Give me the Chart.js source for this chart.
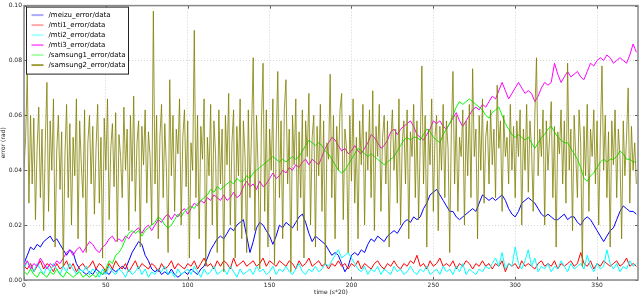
<!DOCTYPE html>
<html><head><meta charset="utf-8">
<script src="https://cdn.jsdelivr.net/npm/chart.js@4/dist/chart.umd.min.js"></script>
<style>html,body{margin:0;padding:0;background:#fff;overflow:hidden}canvas{display:block}</style>
</head><body>
<canvas id="c" width="640" height="296"></canvas>
<script>
const time = [
0,2,4,6,8,10,12,14,16,18,
20,22,24,26,28,30,32,34,36,38,
40,42,44,46,48,50,52,54,56,58,
60,62,64,66,68,70,72,74,76,78,
80,82,84,86,88,90,92,94,96,98,
100,102,104,106,108,110,112,114,116,118,
120,122,124,126,128,130,132,134,136,138,
140,142,144,146,148,150,152,154,156,158,
160,162,164,166,168,170,172,174,176,178,
180,182,184,186,188,190,192,194,196,198,
200,202,204,206,208,210,212,214,216,218,
220,222,224,226,228,230,232,234,236,238,
240,242,244,246,248,250,252,254,256,258,
260,262,264,266,268,270,272,274,276,278,
280,282,284,286,288,290,292,294,296,298,
300,302,304,306,308,310,312,314,316,318,
320,322,324,326,328,330,332,334,336,338,
340,342,344,346,348,350,352,354,356,358,
360,362,364,366,368,370,372,374];

const samsung2Time = [
0,1,2,3,4,5,6,7,8,9,10,11,12,13,14,
15,16,17,18,19,20,21,22,23,24,25,26,27,28,29,
30,31,32,33,34,35,36,37,38,39,40,41,42,43,44,
45,46,47,48,49,50,51,52,53,54,55,56,57,58,59,
60,61,62,63,64,65,66,67,68,69,70,71,72,73,74,
75,76,77,78,79,80,81,82,83,84,85,86,87,88,89,
90,91,92,93,94,95,96,97,98,99,100,101,102,103,104,
105,106,107,108,109,110,111,112,113,114,115,116,117,118,119,
120,121,122,123,124,125,126,127,128,129,130,131,132,133,134,
135,136,137,138,139,140,141,142,143,144,145,146,147,148,149,
150,151,152,153,154,155,156,157,158,159,160,161,162,163,164,
165,166,167,168,169,170,171,172,173,174,175,176,177,178,179,
180,181,182,183,184,185,186,187,188,189,190,191,192,193,194,
195,196,197,198,199,200,201,202,203,204,205,206,207,208,209,
210,211,212,213,214,215,216,217,218,219,220,221,222,223,224,
225,226,227,228,229,230,231,232,233,234,235,236,237,238,239,
240,241,242,243,244,245,246,247,248,249,250,251,252,253,254,
255,256,257,258,259,260,261,262,263,264,265,266,267,268,269,
270,271,272,273,274,275,276,277,278,279,280,281,282,283,284,
285,286,287,288,289,290,291,292,293,294,295,296,297,298,299,
300,301,302,303,304,305,306,307,308,309,310,311,312,313,314,
315,316,317,318,319,320,321,322,323,324,325,326,327,328,329,
330,331,332,333,334,335,336,337,338,339,340,341,342,343,344,
345,346,347,348,349,350,351,352,353,354,355,356,357,358,359,
360,361,362,363,364,365,366,367,368,369,370,371,372,373,374];

const meizu = [
.006,.009,.012,.011,.013,.012,.014,.015,.016,.014,
.015,.013,.011,.009,.011,.010,.006,.004,.003,.002,
.003,.002,.004,.003,.002,.003,.002,.004,.003,.004,
.005,.004,.007,.010,.012,.014,.013,.009,.007,.004,
.003,.004,.002,.003,.002,.004,.002,.001,.002,.003,
.002,.004,.003,.002,.004,.005,.008,.011,.013,.015,
.016,.015,.017,.019,.018,.020,.021,.022,.016,.010,
.014,.019,.021,.020,.018,.016,.013,.016,.020,.019,
.021,.020,.019,.021,.023,.024,.021,.017,.014,.016,
.015,.014,.013,.011,.009,.010,.009,.006,.003,.005,
.009,.010,.009,.011,.010,.013,.015,.014,.016,.015,
.014,.016,.017,.018,.017,.019,.021,.022,.021,.023,
.022,.023,.026,.028,.031,.032,.033,.031,.029,.027,
.025,.025,.023,.022,.023,.024,.025,.026,.025,.028,
.031,.030,.029,.030,.029,.030,.031,.029,.026,.024,
.023,.025,.028,.029,.030,.029,.028,.026,.024,.023,
.024,.023,.022,.022,.023,.024,.022,.023,.023,.021,
.020,.022,.023,.022,.020,.018,.016,.014,.016,.018,
.019,.022,.025,.027,.026,.025,.025,.024];

const mti1 = [
.005,.004,.006,.003,.005,.007,.004,.006,.005,.003,
.006,.004,.005,.007,.004,.006,.003,.005,.006,.004,
.005,.007,.004,.006,.005,.003,.006,.004,.007,.005,
.004,.006,.003,.005,.007,.004,.006,.005,.004,.006,
.005,.003,.006,.004,.005,.007,.004,.006,.005,.004,
.006,.005,.007,.004,.006,.008,.005,.006,.004,.007,
.005,.007,.006,.004,.008,.005,.006,.007,.005,.006,
.007,.005,.006,.008,.005,.007,.006,.005,.007,.006,
.005,.007,.006,.004,.007,.005,.006,.008,.005,.006,
.007,.005,.006,.004,.006,.005,.007,.005,.006,.004,
.006,.005,.007,.004,.006,.005,.004,.006,.007,.005,
.004,.006,.005,.007,.005,.004,.006,.005,.007,.006,
.009,.005,.006,.004,.007,.005,.006,.008,.005,.006,
.005,.007,.004,.006,.005,.007,.006,.004,.006,.005,
.007,.005,.006,.004,.006,.005,.007,.003,.006,.005,
.006,.004,.007,.005,.006,.005,.004,.006,.007,.005,
.006,.005,.007,.004,.006,.005,.006,.007,.005,.006,
.010,.006,.005,.007,.004,.006,.005,.007,.006,.005,
.006,.007,.005,.006,.008,.005,.006,.005];

const mti2 = [
.004,.007,.005,.003,.006,.004,.002,.005,.003,.006,
.004,.002,.005,.003,.006,.004,.002,.004,.003,.005,
.002,.004,.003,.001,.004,.002,.005,.003,.002,.004,
.003,.001,.004,.002,.003,.005,.002,.004,.001,.003,
.002,.004,.003,.005,.002,.003,.001,.004,.002,.003,
.004,.002,.005,.003,.001,.004,.002,.003,.005,.002,
.003,.004,.002,.005,.003,.001,.004,.002,.003,.004,
.002,.005,.003,.004,.002,.003,.005,.002,.004,.003,
.005,.003,.002,.004,.006,.003,.002,.004,.003,.005,
.003,.004,.006,.005,.007,.009,.011,.008,.009,.010,
.008,.006,.004,.003,.005,.002,.004,.003,.005,.002,
.004,.003,.002,.005,.003,.004,.002,.003,.005,.003,
.002,.004,.003,.005,.002,.003,.004,.002,.005,.003,
.004,.002,.005,.003,.006,.002,.004,.003,.002,.004,
.003,.005,.004,.006,.008,.005,.010,.004,.006,.005,
.012,.006,.004,.007,.011,.005,.008,.003,.005,.004,
.006,.003,.005,.004,.007,.005,.003,.006,.004,.005,
.006,.004,.009,.005,.003,.006,.004,.005,.011,.006,
.004,.006,.003,.005,.004,.007,.005,.006];

const mti3 = [
.005,.007,.004,.006,.005,.008,.006,.004,.006,.005,
.007,.006,.008,.010,.011,.009,.011,.012,.010,.012,
.014,.013,.011,.010,.012,.013,.015,.016,.014,.015,
.014,.016,.015,.017,.018,.019,.017,.019,.020,.018,
.020,.022,.021,.023,.024,.022,.024,.023,.025,.026,
.024,.026,.028,.027,.029,.028,.030,.029,.031,.030,
.029,.031,.029,.030,.032,.030,.031,.034,.036,.034,
.035,.033,.036,.034,.035,.037,.039,.037,.038,.040,
.039,.041,.040,.042,.041,.043,.044,.042,.044,.043,
.042,.045,.048,.050,.052,.051,.049,.047,.048,.046,
.047,.049,.047,.046,.048,.050,.053,.052,.050,.048,
.049,.051,.054,.055,.053,.055,.056,.057,.058,.056,
.053,.052,.051,.053,.055,.058,.057,.058,.056,.055,
.057,.059,.061,.058,.056,.058,.060,.062,.063,.062,
.064,.063,.065,.067,.066,.069,.072,.069,.066,.068,
.070,.072,.070,.068,.069,.068,.065,.067,.070,.072,
.071,.072,.079,.075,.072,.074,.076,.074,.075,.076,
.074,.073,.076,.079,.078,.080,.081,.080,.082,.081,
.079,.080,.081,.080,.079,.082,.086,.083];

const samsung1 = [
.003,.002,.004,.002,.001,.003,.002,.001,.003,.002,
.004,.002,.001,.003,.002,.001,.002,.003,.001,.002,
.001,.002,.001,.003,.002,.004,.007,.006,.009,.010,
.012,.015,.017,.018,.017,.018,.016,.018,.019,.020,
.021,.023,.022,.020,.019,.020,.022,.024,.023,.025,
.026,.027,.026,.028,.029,.030,.031,.033,.032,.034,
.033,.034,.035,.036,.035,.037,.036,.036,.038,.037,
.039,.040,.041,.042,.043,.044,.045,.044,.043,.044,
.043,.044,.045,.044,.045,.047,.049,.051,.050,.049,
.050,.049,.047,.046,.044,.042,.040,.039,.040,.042,
.044,.046,.048,.047,.046,.045,.046,.045,.044,.043,
.042,.043,.044,.045,.047,.049,.051,.052,.051,.052,
.052,.051,.053,.055,.054,.052,.051,.050,.053,.055,
.057,.060,.063,.065,.064,.065,.066,.065,.064,.063,
.062,.060,.059,.061,.062,.063,.060,.057,.055,.053,
.052,.053,.052,.051,.052,.050,.048,.050,.052,.053,
.055,.056,.054,.052,.051,.050,.050,.048,.046,.044,
.041,.037,.036,.038,.039,.041,.043,.044,.043,.044,
.044,.045,.047,.046,.044,.044,.043,.043];

const samsung2 = [
.040,.052,.076,.028,.060,.035,.059,.022,.048,.063,.030,.055,.018,.050,.072,
.025,.058,.040,.066,.012,.047,.060,.033,.054,.005,.045,.064,.030,.057,.020,
.052,.038,.066,.015,.058,.042,.030,.062,.010,.050,.060,.035,.056,.024,.048,
.064,.028,.052,.008,.059,.040,.066,.022,.048,.057,.034,.061,.014,.053,.045,
.030,.063,.040,.055,.018,.060,.036,.067,.025,.050,.058,.012,.056,.042,.062,
.028,.054,.045,.020,.098,.035,.060,.015,.052,.064,.030,.057,.040,.010,.073,
.038,.060,.025,.055,.046,.066,.020,.052,.062,.034,.058,.008,.050,.040,.091,
.030,.060,.015,.056,.044,.066,.005,.052,.038,.064,.020,.058,.046,.010,.062,
.035,.055,.003,.060,.042,.068,.020,.050,.062,.008,.056,.038,.066,.015,.058,
.045,.010,.062,.030,.055,.081,.018,.060,.040,.004,.057,.079,.025,.062,.012,
.055,.040,.066,.006,.050,.076,.030,.058,.015,.062,.073,.035,.055,.003,.060,
.042,.066,.018,.054,.030,.062,.008,.058,.045,.068,.020,.052,.060,.012,.056,
.038,.064,.025,.058,.006,.050,.044,.075,.030,.060,.015,.056,.040,.062,.068,
.022,.055,.048,.010,.060,.036,.066,.028,.052,.015,.058,.042,.064,.020,.054,
.040,.062,.030,.069,.018,.056,.045,.064,.025,.052,.060,.035,.058,.012,.050,
.062,.040,.055,.028,.066,.020,.050,.058,.035,.062,.015,.054,.045,.064,.030,
.058,.022,.050,.078,.035,.060,.012,.055,.042,.066,.025,.052,.060,.018,.056,
.040,.064,.030,.058,.048,.010,.055,.076,.035,.060,.025,.052,.045,.062,.020,
.058,.038,.064,.030,.077,.045,.055,.015,.060,.040,.066,.028,.052,.058,.035,
.062,.042,.055,.030,.071,.048,.058,.025,.060,.045,.052,.035,.064,.040,.056,
.030,.058,.045,.062,.020,.055,.040,.064,.032,.058,.048,.025,.060,.081,.038,
.055,.045,.062,.020,.058,.040,.052,.065,.030,.056,.012,.054,.046,.062,.035,
.058,.028,.079,.040,.055,.018,.060,.045,.030,.062,.050,.005,.056,.038,.064,
.025,.055,.045,.062,.035,.058,.020,.052,.078,.040,.060,.030,.054,.012,.058,
.042,.062,.030,.055,.045,.015,.058,.038,.052,.070,.028,.056,.040,.050,.035];

const seriesNames = ['/meizu_error/data','/mti1_error/data','/mti2_error/data','/mti3_error/data','/samsung1_error/data','/samsung2_error/data'];
const xTickValues = [0,50,100,150,200,250,300,350];
const yTickValues = [0.00,0.02,0.04,0.06,0.08,0.10];

const lineColors = ['#0000ff','#ff0000','#00ffff','#ff00ff','#00ff00','rgba(128,128,0,0.8)'];
const legendColors = ['#aaaaff','#ffaaaa','#aaffff','#ff77ff','#aaffaa','#a0a040'];

Chart.defaults.font.family = 'DejaVu Sans';
Chart.defaults.font.size = 6;
Chart.defaults.color = '#222';

const framePlugin = {
  id: 'frame',
  afterDraw(chart) {
    const ctx = chart.ctx, a = chart.chartArea;
    const xs = chart.scales.x, ys = chart.scales.y;
    ctx.save();
    ctx.strokeStyle = '#333'; ctx.lineWidth = 0.8;
    ctx.beginPath();
    xTickValues.forEach(v => {
      const px = Math.round(xs.getPixelForValue(v)) + 0.5;
      ctx.moveTo(px, a.bottom); ctx.lineTo(px, a.bottom - 3);
      ctx.moveTo(px, a.top); ctx.lineTo(px, a.top + 3);
    });
    yTickValues.forEach(v => {
      const py = Math.round(ys.getPixelForValue(v)) + 0.5;
      ctx.moveTo(a.left, py); ctx.lineTo(a.left + 3, py);
      ctx.moveTo(a.right, py); ctx.lineTo(a.right - 3, py);
    });
    ctx.stroke();
    ctx.strokeStyle = '#888'; ctx.lineWidth = 1.5;
    ctx.strokeRect(a.left, a.top, a.right - a.left, a.bottom - a.top);
    const lx = a.left + 2.5, ly = a.top + 1.5, lw = 102, lh = 67;
    ctx.fillStyle = '#fff';
    ctx.fillRect(lx, ly, lw, lh);
    ctx.strokeStyle = '#222'; ctx.lineWidth = 1;
    ctx.strokeRect(lx, ly, lw, lh);
    ctx.font = '7px "DejaVu Sans"';
    ctx.textBaseline = 'middle'; ctx.textAlign = 'left';
    chart.data.datasets.forEach((ds, i) => {
      const y = ly + 8 + i * 10;
      ctx.strokeStyle = legendColors[i]; ctx.lineWidth = 2;
      ctx.beginPath(); ctx.moveTo(lx + 5, y); ctx.lineTo(lx + 17, y); ctx.stroke();
      ctx.fillStyle = '#000';
      ctx.fillText(ds.label, lx + 22, y);
    });
    ctx.restore();
  }
};

const stepSeries = [meizu, mti1, mti2, mti3, samsung1];
const datasets = stepSeries.map((vals, i) => ({
  label: seriesNames[i],
  data: vals,
  borderColor: lineColors[i],
  borderWidth: 1,
  pointRadius: 0,
  tension: 0,
  fill: false,
  order: 5 - i
}));
datasets.push({
  label: seriesNames[5],
  data: samsung2Time.map((t, i) => ({ x: t, y: samsung2[i] })),
  borderColor: lineColors[5],
  borderWidth: 1,
  pointRadius: 0,
  tension: 0,
  fill: false,
  order: 0
});

new Chart(document.getElementById('c'), {
  type: 'line',
  data: { labels: time, datasets },
  options: {
    responsive: false,
    animation: false,
    devicePixelRatio: 1,
    layout: { padding: { top: 4, right: 2, left: 0, bottom: 0 } },
    plugins: { legend: { display: false }, tooltip: { enabled: false } },
    scales: {
      x: {
        type: 'linear', min: 0, max: 375,
        afterBuildTicks: s => { s.ticks = xTickValues.map(v => ({ value: v })); },
        afterFit: s => { s.height = 16; },
        ticks: { padding: 2, maxRotation: 0, autoSkip: false, color: '#222', font: { size: 6 } },
        grid: { color: '#c8c8c8', lineWidth: 0.8, drawTicks: false },
        border: { display: false, dash: [1, 2] },
        title: { display: true, text: 'time (s*20)', padding: { top: 0, bottom: 0 }, font: { size: 6 }, color: '#222' }
      },
      y: {
        min: 0, max: 0.10,
        afterBuildTicks: s => { s.ticks = yTickValues.map(v => ({ value: v })); },
        afterFit: s => { s.width = 24; },
        ticks: { padding: 2, color: '#222', font: { size: 6 }, callback: v => v.toFixed(2) },
        grid: { color: '#c8c8c8', lineWidth: 0.8, drawTicks: false },
        border: { display: false, dash: [1, 2] },
        title: { display: true, text: 'error (rad)', padding: { top: 0, bottom: 0 }, font: { size: 6 }, color: '#222' }
      }
    }
  },
  plugins: [framePlugin]
});
</script>
</body></html>
